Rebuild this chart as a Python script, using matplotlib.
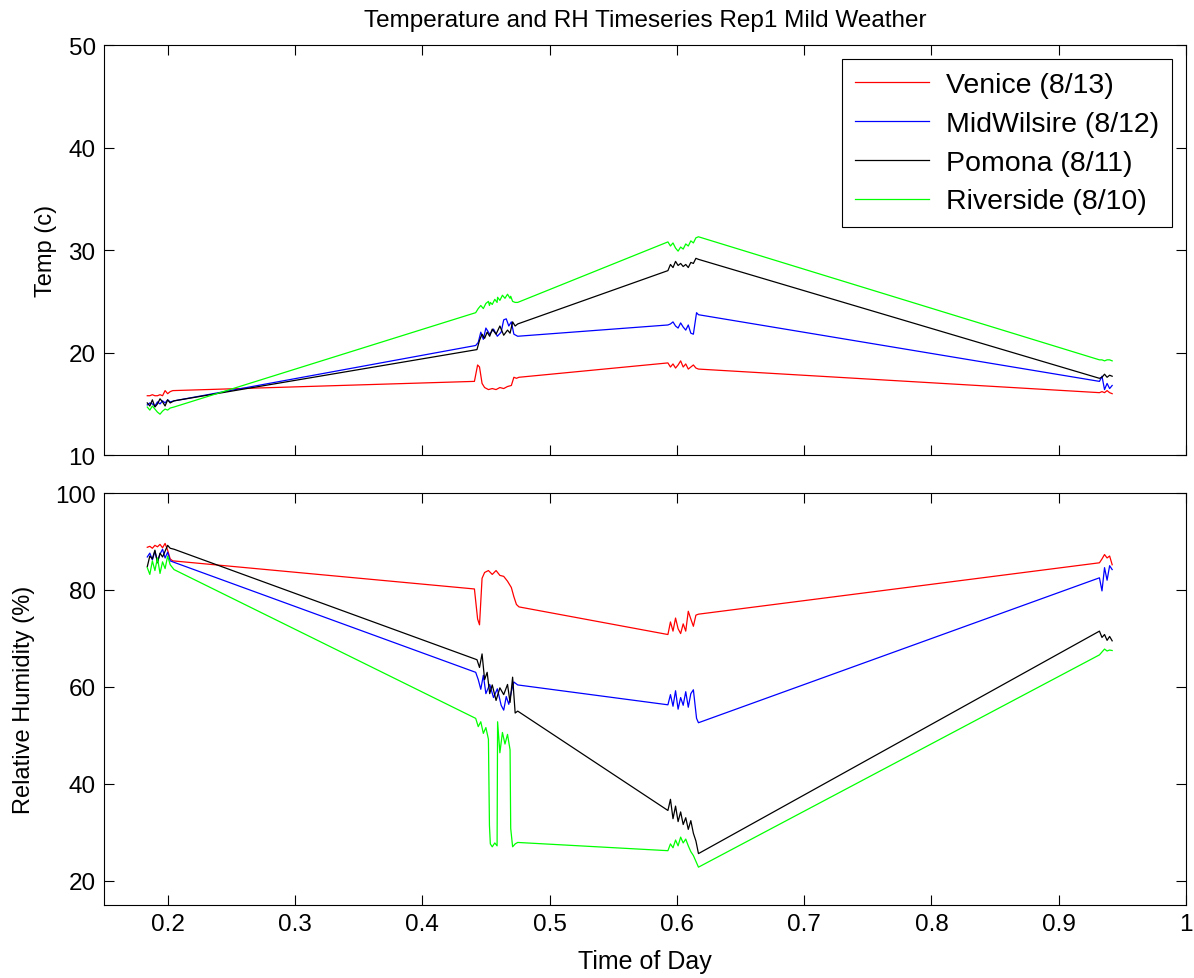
import matplotlib
matplotlib.use("Agg")
import matplotlib.pyplot as plt

plt.rcParams['font.family'] = ['Liberation Sans', 'DejaVu Sans']

# time of day samples and readings per site
t_venice = [0.184, 0.186, 0.188, 0.190, 0.192, 0.194, 0.196, 0.198, 0.200, 0.202, 0.204,
            0.441, 0.4435, 0.445, 0.447, 0.449, 0.452, 0.455, 0.458, 0.461, 0.464, 0.467, 0.470, 0.472, 0.474, 0.476,
            0.593, 0.595, 0.597, 0.599, 0.601, 0.603, 0.605, 0.607, 0.609, 0.611, 0.613, 0.615, 0.617,
            0.932, 0.934, 0.936, 0.938, 0.940, 0.942]
temp_venice = [15.8, 15.8, 15.9, 15.8, 15.8, 15.9, 15.8, 16.3, 16.0, 16.2, 16.3,
               17.2, 18.8, 18.6, 17.0, 16.6, 16.4, 16.5, 16.4, 16.6, 16.5, 16.7, 16.8, 17.6, 17.5, 17.6,
               19.0, 18.6, 18.9, 18.5, 18.8, 19.2, 18.6, 18.9, 18.4, 18.6, 18.8, 18.5, 18.4,
               16.1, 16.2, 16.1, 16.3, 16.1, 16.0]
rh_venice = [88.8, 89.0, 88.6, 89.2, 88.9, 89.4, 88.7, 89.6, 88.2, 86.4, 86.0,
             80.2, 74.0, 72.8, 82.4, 83.6, 84.0, 83.2, 84.0, 83.0, 82.8, 81.8, 80.5, 78.6, 77.0, 76.5,
             70.8, 73.4, 71.5, 74.2, 72.0, 71.0, 73.0, 71.5, 75.6, 74.0, 72.5, 74.8, 75.0,
             85.6, 86.4, 87.3, 86.6, 87.0, 85.2]

t_midwil = [0.184, 0.186, 0.188, 0.190, 0.192, 0.194, 0.196, 0.198, 0.200, 0.202, 0.205,
            0.442, 0.444, 0.446, 0.448, 0.450, 0.453, 0.456, 0.459, 0.462, 0.464, 0.466, 0.468, 0.470, 0.472, 0.475,
            0.593, 0.595, 0.597, 0.599, 0.601, 0.603, 0.605, 0.607, 0.609, 0.611, 0.613, 0.6155, 0.617,
            0.932, 0.934, 0.936, 0.938, 0.940, 0.942]
temp_midwil = [14.9, 15.1, 15.0, 14.8, 15.2, 15.0, 15.3, 15.1, 15.4, 15.2, 15.3,
               20.7, 21.0, 22.0, 21.3, 22.4, 21.8, 22.3, 21.6, 22.0, 23.2, 23.3, 22.6, 23.0, 21.8, 21.6,
               22.7, 22.8, 23.0, 22.6, 22.4, 22.9, 22.5, 22.2, 22.7, 21.9, 21.8, 23.9, 23.7,
               17.2, 17.7, 16.4, 17.0, 16.5, 16.8]
rh_midwil = [86.8, 87.6, 86.2, 88.0, 85.8, 87.4, 88.4, 86.6, 87.8, 86.0, 85.7,
             63.0, 61.5, 59.5, 62.4, 58.6, 60.5, 57.8, 59.6, 56.2, 55.2, 58.0, 56.4, 59.0, 61.0, 60.4,
             56.3, 58.4, 56.0, 59.2, 55.4, 57.8, 56.2, 59.0, 55.8, 58.6, 59.4, 53.5, 52.6,
             82.5, 79.8, 84.6, 82.0, 85.0, 84.2]

t_pomona = [0.184, 0.186, 0.188, 0.190, 0.192, 0.194, 0.196, 0.198, 0.200, 0.202, 0.205,
            0.443, 0.445, 0.447, 0.449, 0.451, 0.453, 0.455, 0.458, 0.461, 0.464, 0.467, 0.469, 0.471, 0.473, 0.475,
            0.593, 0.595, 0.597, 0.599, 0.601, 0.603, 0.605, 0.607, 0.609, 0.611, 0.613, 0.615, 0.617,
            0.932, 0.934, 0.936, 0.938, 0.940, 0.942]
temp_pomona = [15.1, 14.8, 15.4, 14.7, 15.0, 15.5, 15.2, 14.8, 15.4, 15.1, 15.3,
               20.3, 21.2, 21.8, 21.4, 22.0, 21.6, 22.3, 21.8, 22.6, 21.7, 22.2, 21.9, 23.0, 22.6, 22.8,
               28.0, 28.6, 28.3, 28.9, 28.5, 28.7, 28.4, 28.6, 28.3, 28.8, 28.7, 29.2, 29.1,
               17.5, 17.6, 17.9, 17.6, 17.8, 17.7]
rh_pomona = [84.8, 87.0, 86.4, 88.2, 85.6, 87.6, 86.8, 88.0, 89.2, 88.6, 88.4,
             65.6, 64.0, 66.8, 61.5, 63.0, 58.6, 60.4, 57.2, 59.8, 58.4, 60.5, 56.8, 62.0, 54.6, 55.0,
             34.5, 36.8, 32.8, 35.4, 32.2, 34.2, 31.6, 33.0, 30.6, 32.4, 29.8, 28.2, 25.6,
             71.5, 70.2, 70.8, 69.6, 70.4, 69.5]

t_river = [0.184, 0.186, 0.188, 0.190, 0.192, 0.194, 0.196, 0.198, 0.200, 0.202, 0.205,
           0.442, 0.444, 0.446, 0.448, 0.450, 0.452, 0.4528, 0.4535, 0.455, 0.457, 0.4588, 0.4592,
           0.461, 0.463, 0.465, 0.467, 0.4690, 0.4695, 0.471, 0.473, 0.475,
           0.593, 0.595, 0.597, 0.599, 0.601, 0.603, 0.605, 0.607, 0.609, 0.611, 0.613, 0.615, 0.617,
           0.932, 0.934, 0.936, 0.938, 0.940, 0.942]
temp_river = [14.7, 14.4, 14.8, 14.5, 14.2, 14.0, 14.3, 14.5, 14.4, 14.6, 14.7,
              23.9, 24.3, 24.6, 24.3, 24.8, 25.0, 24.6, 24.9, 24.7, 25.2, 24.9, 25.4,
              25.1, 25.6, 25.3, 25.7, 25.3, 25.5, 25.0, 24.9, 24.9,
              30.8, 30.4, 30.7, 30.2, 29.9, 30.3, 30.1, 30.6, 30.4, 30.9, 30.7, 31.2, 31.3,
              19.3, 19.3, 19.2, 19.3, 19.3, 19.2]
rh_river = [84.6, 83.2, 86.0, 84.0, 86.6, 83.4, 85.8, 84.4, 87.0, 85.2, 84.2,
            53.5, 51.8, 52.8, 50.4, 51.6, 49.2, 31.4, 27.6, 27.0, 27.8, 27.2, 52.8,
            46.4, 50.6, 48.2, 50.2, 47.0, 30.8, 27.0, 27.6, 27.9,
            26.2, 27.6, 26.8, 28.4, 27.2, 29.0, 27.8, 28.6, 27.2, 26.0, 25.2, 24.0, 22.8,
            66.6, 67.2, 67.8, 67.4, 67.6, 67.5]

labels = ['Venice (8/13)', 'MidWilsire (8/12)', 'Pomona (8/11)', 'Riverside (8/10)']
colors = ['#ff0000', '#0000ff', '#000000', '#00ff00']

fig = plt.figure(figsize=(11.94, 9.79), dpi=100)
ax1 = fig.add_axes([0.0871, 0.534, 0.9062, 0.419])
ax2 = fig.add_axes([0.0871, 0.0746, 0.9062, 0.4208])

series = [(t_venice, temp_venice, rh_venice), (t_midwil, temp_midwil, rh_midwil),
          (t_pomona, temp_pomona, rh_pomona), (t_river, temp_river, rh_river)]
for (t, tp, rh), c, lab in zip(series, colors, labels):
    ax1.plot(t, tp, color=c, lw=0.9, label=lab)
    ax2.plot(t, rh, color=c, lw=0.9)

for ax in (ax1, ax2):
    ax.set_xlim(0.15, 1.0)
    ax.set_xticks([0.2, 0.3, 0.4, 0.5, 0.6, 0.7, 0.8, 0.9, 1.0])
    ax.tick_params(direction='in', top=True, right=True, length=7, width=0.8,
                   labelsize=17.5, pad=6)
    for s in ax.spines.values():
        s.set_linewidth(0.8)

ax1.set_ylim(10, 50)
ax1.set_yticks([10, 20, 30, 40, 50])
ax1.set_xticklabels([])
ax2.set_ylim(15, 100)
ax2.set_yticks([20, 40, 60, 80, 100])
ax2.set_xticklabels(['0.2', '0.3', '0.4', '0.5', '0.6', '0.7', '0.8', '0.9', '1'])

ax1.set_title('Temperature and RH Timeseries Rep1 Mild Weather', fontsize=17.5, pad=14)
ax1.set_ylabel('Temp (c)', fontsize=17, labelpad=8)
ax2.set_ylabel('Relative Humidity (%)', fontsize=17, labelpad=14)
ax2.set_xlabel('Time of Day', fontsize=18, labelpad=10)

leg = ax1.legend(loc='upper right', fontsize=20.5, fancybox=False, framealpha=1,
                 edgecolor='black', handlelength=2.6, handletextpad=0.6,
                 borderaxespad=0.5, labelspacing=0.45, borderpad=0.45)
leg.get_frame().set_linewidth(0.8)

fig.savefig('out.png', dpi=100)
